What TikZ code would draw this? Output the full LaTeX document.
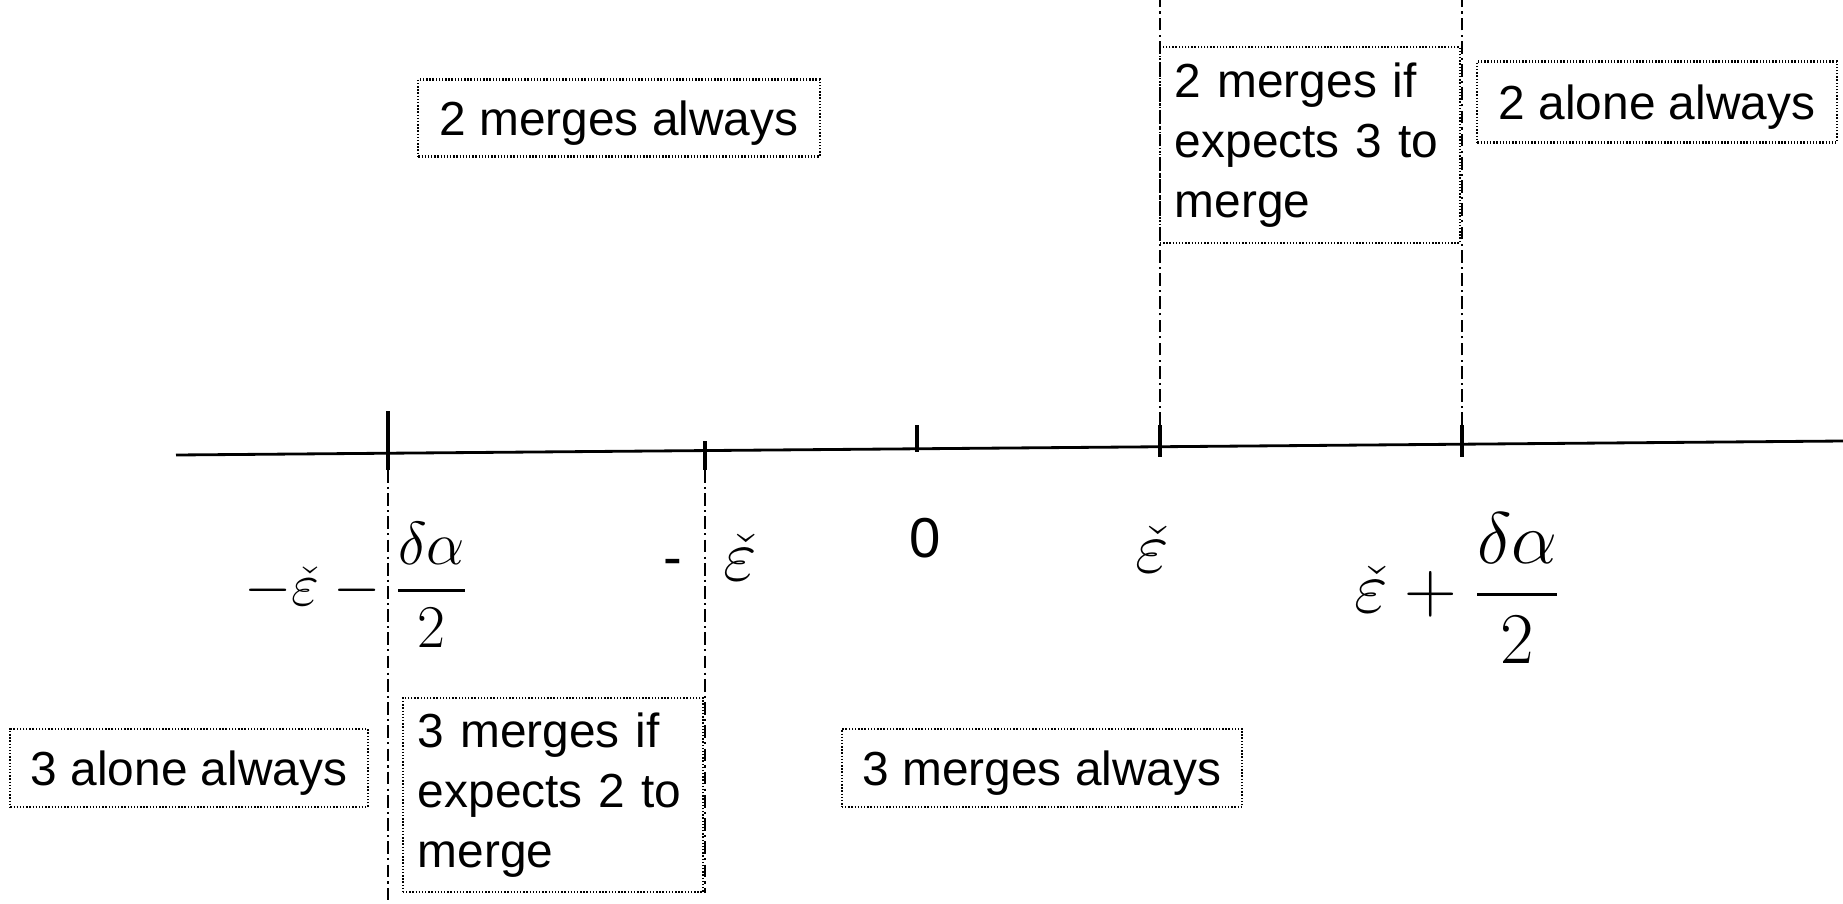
\documentclass[tikz,border=0pt]{standalone}
\usepackage{amsmath,amssymb}
\usepackage[no-math]{fontspec}
\setmainfont{Liberation Sans}
\usetikzlibrary{calc}

\begin{document}
\begin{tikzpicture}[x=0.01cm,y=-0.01cm,
    box/.style={draw, line width=0.6pt, dash pattern=on 0.4pt off 0.5pt,
      inner xsep=0.15cm, inner ysep=0pt, font=\fontsize{13.6}{17}\selectfont},
    onebox/.style={box, text height=9.7pt, text depth=0pt},
    tick/.style={line width=0.9pt},
    guide/.style={line width=0.5pt, dash pattern=on 3.6pt off 1.2pt on 0.6pt off 1.2pt}]
    \useasboundingbox (0,0) rectangle (1843,903);
    % axis
    \coordinate (a0) at (176,455);
    \coordinate (a1) at (1843,441);
    \draw[line width=0.8pt] (a0) -- (a1);
    % ticks and guides
    \coordinate (t1) at (388,411);
    \coordinate (b1) at (388,470);
    \coordinate (t2) at (705,441);
    \coordinate (b2) at (705,470);
    \coordinate (t3) at (917,425);
    \coordinate (b3) at (917,452);
    \coordinate (t4) at (1160,425);
    \coordinate (b4) at (1160,457);
    \coordinate (t5) at (1462,425);
    \coordinate (b5) at (1462,457);
    \draw[tick] (t1) -- (b1);
    \draw[tick] (t2) -- (b2);
    \draw[tick] (t3) -- (b3);
    \draw[tick] (t4) -- (b4);
    \draw[tick] (t5) -- (b5);
    \draw[guide] (b1) -- (388,903);
    \draw[guide] (b2) -- (705,893);
    \draw[guide] (t4) -- (1160,0);
    \draw[guide] (t5) -- (1462,0);
    % labels under the axis
    \node[inner sep=0pt, font=\fontsize{17.5}{20}\selectfont] (l1) at (357,585)
      {$-\check{\varepsilon}-\dfrac{\delta\alpha}{2}$};
    \node[inner sep=0pt, font=\fontsize{16}{19}\selectfont] (l2a) at (673,568) {-};
    \node[inner sep=0pt, font=\fontsize{20}{24}\selectfont] (l2) at (740,558) {$\check{\varepsilon}$};
    \node[inner sep=0pt, font=\fontsize{16}{19}\selectfont] (l3) at (925,538) {0};
    \node[inner sep=0pt, font=\fontsize{20}{24}\selectfont] (l4) at (1152,550) {$\check{\varepsilon}$};
    \node[inner sep=0pt, font=\fontsize{20}{24}\selectfont] (l5) at (1458,588)
      {$\check{\varepsilon}+\dfrac{\delta\alpha}{2}$};
    % boxes
    \node[onebox, minimum width=4.01cm, minimum height=0.77cm] (m2) at (619,118) {2 merges always};
    \node[box, text width=2.7cm, minimum height=1.95cm, align=left] (m2if) at (1310,145)
      {2 merges if\\expects 3 to\\merge};
    \node[onebox, minimum width=3.59cm, minimum height=0.81cm] (a2) at (1657,102) {2 alone always};
    \node[onebox, minimum width=3.57cm, minimum height=0.78cm] (a3) at (189,768) {3 alone always};
    \node[box, text width=2.7cm, minimum height=1.94cm, align=left] (m3if) at (553,795)
      {3 merges if\\expects 2 to\\merge};
    \node[onebox, minimum width=4.0cm, minimum height=0.78cm] (m3) at (1042,768) {3 merges always};
\end{tikzpicture}
\end{document}
